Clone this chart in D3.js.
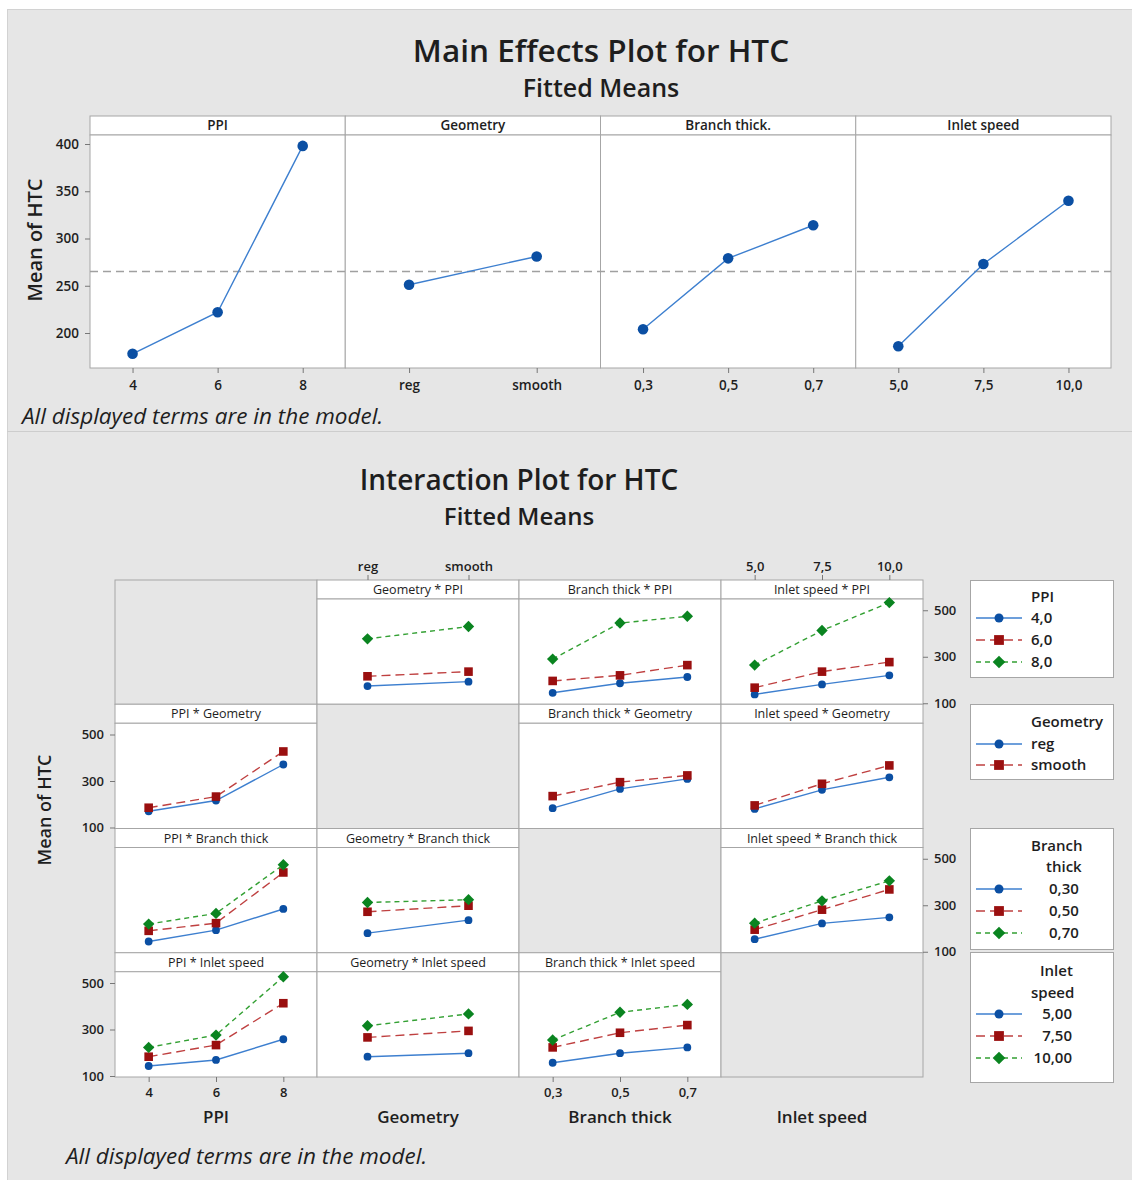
<!DOCTYPE html>
<html>
<head>
<meta charset="utf-8">
<script src="https://cdn.jsdelivr.net/npm/d3@7"></script>
<style>
body { margin: 0; background: #fff; }
svg text { font-family: "Open Sans", "Noto Sans", sans-serif; fill: #1e1e1e; }
</style>
</head>
<body>
<div id="chart"></div>
<script>

//- Data: factors and levels
const factorNames = ["PPI", "Geometry", "Branch thick", "Inlet speed"];
const mainStripNames = ["PPI", "Geometry", "Branch thick.", "Inlet speed"];

const ppiLevels = ["4", "6", "8"];
const geomLevels = ["reg", "smooth"];
const branchLevels = ["0,3", "0,5", "0,7"];
const inletLevels = ["5,0", "7,5", "10,0"];

const ppiLegend = ["4,0", "6,0", "8,0"];
const geomLegend = ["reg", "smooth"];
const branchLegend = ["0,30", "0,50", "0,70"];
const inletLegend = ["5,00", "7,50", "10,00"];

//- Data: main effects (fitted means)
const mainPPI = [178, 222, 398];
const mainGeom = [251, 281];
const mainBranch = [204, 279, 314];
const mainInlet = [186, 273, 340];
const grandMean = 265;

const mainTicks = [200, 250, 300, 350, 400];
const intTicks = [100, 300, 500];

//- Data: interaction fitted means, "x factor by trace factor", one array per trace level
const geomByPPI = [[174, 193], [216, 236], [377, 430]];
const branchByPPI = [[145, 186, 213], [196, 220, 264], [290, 445, 474]];
const inletByPPI = [[138, 181, 220], [167, 236, 277], [264, 413, 533]];

const ppiByGeom = [[170, 216, 371], [185, 233, 427]];
const branchByGeom = [[183, 266, 309], [235, 295, 324]];
const inletByGeom = [[180, 262, 316], [195, 288, 367]];

const ppiByBranch = [[144, 193, 284], [190, 223, 441], [219, 265, 474]];
const geomByBranch = [[180, 236], [272, 298], [312, 324]];
const inletByBranch = [[154, 222, 248], [195, 281, 368], [223, 319, 405]];

const ppiByInlet = [[143, 169, 258], [183, 233, 413], [223, 276, 527]];
const geomByInlet = [[183, 198], [266, 294], [316, 367]];
const branchByInlet = [[157, 198, 223], [223, 286, 319], [255, 374, 408]];


//- Globals
const WIDTH = 1132;
const HEIGHT = 1180;
const BG = "#e6e6e6";
const FRAME = "#a6a6a6";

const levelsList = [ppiLevels, geomLevels, branchLevels, inletLevels];
const mainList = [mainPPI, mainGeom, mainBranch, mainInlet];

// cellData[trace][x]
const cellData = [
    [null, geomByPPI, branchByPPI, inletByPPI],
    [ppiByGeom, null, branchByGeom, inletByGeom],
    [ppiByBranch, geomByBranch, null, inletByBranch],
    [ppiByInlet, geomByInlet, branchByInlet, null]
];

const seriesStyle = [
    { line: "#3d7fcf", fill: "#0b4fa3", dash: null, shape: "circle" },
    { line: "#bf4040", fill: "#9a0f0f", dash: "9,5", shape: "square" },
    { line: "#33a033", fill: "#0a8420", dash: "5,4", shape: "diamond" }
];


function markerPath(shape, s){
    /* path of a marker centred on 0,0; s is the half size */
    if (shape == "circle"){
        return d3.symbol(d3.symbolCircle, Math.PI * s * s)();
    }
    if (shape == "square"){
        return `M${-s},${-s}H${s}V${s}H${-s}Z`;
    }
    return `M0,${-s}L${s},0L0,${s}L${-s},0Z`;
}

function markerSize(shape){
    if (shape == "circle") return 3.9;
    if (shape == "square") return 4.3;
    return 5.7;
}


let svg = d3.select("#chart").append("svg")
    .attr("width", WIDTH)
    .attr("height", HEIGHT);

svg.append("rect").attr("width", WIDTH).attr("height", HEIGHT).attr("fill", "#fff");

svg.append("rect")
    .attr("x", 7.5).attr("y", 9.5)
    .attr("width", WIDTH).attr("height", HEIGHT)
    .attr("fill", BG).attr("stroke", "#d2d2d2");

svg.append("line")
    .attr("x1", 7).attr("x2", WIDTH)
    .attr("y1", 431.5).attr("y2", 431.5)
    .attr("stroke", "#cdcdcd");


function styleAxis(g, fontSize){
    g.select(".domain").remove();
    g.selectAll(".tick line").attr("stroke", "#777");
    g.selectAll(".tick text")
        .attr("fill", "#1e1e2e")
        .style("font-size", fontSize + "px")
        .style("font-weight", 600)
        .style("font-family", "'Open Sans', sans-serif");
}


//-- Main Effects Plot
const me = { left: 90, top: 116, strip: 19, bottom: 368, width: 1021 };
const mePanelW = me.width / 4;

svg.append("text")
    .attr("x", 601).attr("y", 62)
    .attr("text-anchor", "middle")
    .style("font-size", "31.5px").style("font-weight", 600)
    .text("Main Effects Plot for HTC");

svg.append("text")
    .attr("x", 601).attr("y", 97)
    .attr("text-anchor", "middle")
    .style("font-size", "25px").style("font-weight", 600)
    .text("Fitted Means");

let yMain = d3.scaleLinear().domain([200, 400]).range([333, 144]);

let meGroup = svg.append("g");

mainList.forEach((values, i) => {
    let px = me.left + i * mePanelW;

    meGroup.append("rect")
        .attr("x", px).attr("y", me.top)
        .attr("width", mePanelW).attr("height", me.strip)
        .attr("fill", "#fff").attr("stroke", FRAME);

    meGroup.append("text")
        .attr("x", px + mePanelW / 2).attr("y", me.top + 14)
        .attr("text-anchor", "middle")
        .style("font-size", "13.5px").style("font-weight", 600)
        .text(mainStripNames[i]);

    meGroup.append("rect")
        .attr("x", px).attr("y", me.top + me.strip)
        .attr("width", mePanelW).attr("height", me.bottom - me.top - me.strip)
        .attr("fill", "#fff").attr("stroke", FRAME);
});

meGroup.append("line")
    .attr("x1", me.left).attr("x2", me.left + me.width)
    .attr("y1", yMain(grandMean)).attr("y2", yMain(grandMean))
    .attr("stroke", "#a0a0a0").attr("stroke-width", 1.5)
    .attr("stroke-dasharray", "8,5");

mainList.forEach((values, i) => {
    let px = me.left + i * mePanelW;
    let x = d3.scalePoint().domain(levelsList[i]).range([px, px + mePanelW]).padding(0.5);

    let pts = values.map((v, k) => [x(levelsList[i][k]), yMain(v)]);

    meGroup.append("path")
        .attr("d", d3.line()(pts))
        .attr("fill", "none").attr("stroke", "#3d7fcf").attr("stroke-width", 1.4);

    meGroup.selectAll(null)
        .data(pts)
        .enter()
        .append("circle")
        .attr("cx", d => d[0]).attr("cy", d => d[1])
        .attr("r", 5.3)
        .attr("fill", "#0b4fa3");

    let ax = meGroup.append("g")
        .attr("transform", `translate(0, ${me.bottom})`)
        .call(d3.axisBottom(x).tickSize(5).tickPadding(7));
    styleAxis(ax, 13.5);
});

let meY = meGroup.append("g")
    .attr("transform", `translate(${me.left}, 0)`)
    .call(d3.axisLeft(yMain).tickValues(mainTicks).tickSize(5).tickPadding(6));
styleAxis(meY, 13.5);

svg.append("text")
    .attr("transform", "translate(42, 240) rotate(-90)")
    .attr("text-anchor", "middle")
    .style("font-size", "20px").style("font-weight", 600)
    .text("Mean of HTC");

svg.append("text")
    .attr("x", 22).attr("y", 424)
    .style("font-size", "22.5px").style("font-style", "italic")
    .text("All displayed terms are in the model.");


//-- Interaction Plot
const ip = { left: 115, top: 580, cellW: 202, cellH: 124.25, strip: 19 };

svg.append("text")
    .attr("x", 519).attr("y", 490)
    .attr("text-anchor", "middle")
    .style("font-size", "28px").style("font-weight", 600)
    .text("Interaction Plot for HTC");

svg.append("text")
    .attr("x", 519).attr("y", 525)
    .attr("text-anchor", "middle")
    .style("font-size", "24px").style("font-weight", 600)
    .text("Fitted Means");

let ipGroup = svg.append("g");

for (let r = 0; r < 4; r++){
    for (let c = 0; c < 4; c++){
        let cx = ip.left + c * ip.cellW;
        let cy = ip.top + r * ip.cellH;
        let bottom = cy + ip.cellH;

        if (r == c){
            ipGroup.append("rect")
                .attr("x", cx).attr("y", cy)
                .attr("width", ip.cellW).attr("height", ip.cellH)
                .attr("fill", BG).attr("stroke", FRAME);
            continue;
        }

        ipGroup.append("rect")
            .attr("x", cx).attr("y", cy)
            .attr("width", ip.cellW).attr("height", ip.strip)
            .attr("fill", "#fff").attr("stroke", FRAME);

        ipGroup.append("text")
            .attr("x", cx + ip.cellW / 2).attr("y", cy + 14)
            .attr("text-anchor", "middle")
            .style("font-size", "12.5px")
            .text(`${factorNames[c]} * ${factorNames[r]}`);

        ipGroup.append("rect")
            .attr("x", cx).attr("y", cy + ip.strip)
            .attr("width", ip.cellW).attr("height", ip.cellH - ip.strip)
            .attr("fill", "#fff").attr("stroke", FRAME);

        let x = d3.scalePoint().domain(levelsList[c]).range([cx, cx + ip.cellW]).padding(0.5);
        let y = d3.scaleLinear().domain([100, 500]).range([bottom - 1, bottom - 94]);

        cellData[r][c].forEach((vals, k) => {
            let st = seriesStyle[k];
            let pts = vals.map((v, j) => [x(levelsList[c][j]), y(v)]);

            ipGroup.append("path")
                .attr("d", d3.line()(pts))
                .attr("fill", "none").attr("stroke", st.line).attr("stroke-width", 1.4)
                .attr("stroke-dasharray", st.dash);

            ipGroup.selectAll(null)
                .data(pts)
                .enter()
                .append("path")
                .attr("transform", d => `translate(${d[0]}, ${d[1]})`)
                .attr("d", markerPath(st.shape, markerSize(st.shape)))
                .attr("fill", st.fill);
        });
    }
}

//- Interaction axes
for (let r = 0; r < 4; r++){
    let bottom = ip.top + (r + 1) * ip.cellH;
    let y = d3.scaleLinear().domain([100, 500]).range([bottom - 1, bottom - 94]);
    let onRight = (r % 2 == 0);
    let axis = onRight ? d3.axisRight(y) : d3.axisLeft(y);
    let ag = ipGroup.append("g")
        .attr("transform", `translate(${onRight ? ip.left + 4 * ip.cellW : ip.left}, 0)`)
        .call(axis.tickValues(intTicks).tickSize(5).tickPadding(6));
    styleAxis(ag, 13);
}

for (let c = 0; c < 4; c++){
    let cx = ip.left + c * ip.cellW;
    let x = d3.scalePoint().domain(levelsList[c]).range([cx, cx + ip.cellW]).padding(0.5);
    let onBottom = (c % 2 == 0);
    let ag;
    if (onBottom){
        ag = ipGroup.append("g")
            .attr("transform", `translate(0, ${ip.top + 4 * ip.cellH})`)
            .call(d3.axisBottom(x).tickSize(5).tickPadding(6));
    }
    else {
        ag = ipGroup.append("g")
            .attr("transform", `translate(0, ${ip.top})`)
            .call(d3.axisTop(x).tickSize(5).tickPadding(4));
    }
    styleAxis(ag, 13);

    ipGroup.append("text")
        .attr("x", cx + ip.cellW / 2).attr("y", 1123)
        .attr("text-anchor", "middle")
        .style("font-size", "17px").style("font-weight", 600)
        .text(factorNames[c]);
}

svg.append("text")
    .attr("transform", "translate(51, 810) rotate(-90)")
    .attr("text-anchor", "middle")
    .style("font-size", "18px").style("font-weight", 600)
    .text("Mean of HTC");

svg.append("text")
    .attr("x", 66).attr("y", 1164)
    .style("font-size", "22.5px").style("font-style", "italic")
    .text("All displayed terms are in the model.");


//-- Legends
const legendDefs = [
    { top: 580, height: 97, title: [["PPI", 1031, 602]], labels: ppiLegend, rows: [623, 645, 667], lx: 1031, anchor: "start" },
    { top: 704, height: 75, title: [["Geometry", 1031, 727]], labels: geomLegend, rows: [749, 770], lx: 1031, anchor: "start" },
    { top: 828, height: 121, title: [["Branch", 1031, 851], ["thick", 1046, 872]], labels: branchLegend, rows: [894, 916, 938], lx: 1049, anchor: "start" },
    { top: 952, height: 130, title: [["Inlet", 1040, 976], ["speed", 1031, 998]], labels: inletLegend, rows: [1019, 1041, 1063], lx: 1072, anchor: "end" }
];

let legGroup = svg.append("g");

legendDefs.forEach(def => {
    legGroup.append("rect")
        .attr("x", 970.5).attr("y", def.top + 0.5)
        .attr("width", 143).attr("height", def.height)
        .attr("fill", "#fff").attr("stroke", FRAME);

    def.title.forEach(t => {
        legGroup.append("text")
            .attr("x", t[1]).attr("y", t[2])
            .style("font-size", "15px").style("font-weight", 600)
            .text(t[0]);
    });

    def.labels.forEach((lab, k) => {
        let st = seriesStyle[k];
        let yy = def.rows[k] - 5;

        legGroup.append("line")
            .attr("x1", 976).attr("x2", 1022)
            .attr("y1", yy).attr("y2", yy)
            .attr("stroke", st.line).attr("stroke-width", 1.4)
            .attr("stroke-dasharray", st.dash);

        legGroup.append("path")
            .attr("transform", `translate(999, ${yy})`)
            .attr("d", markerPath(st.shape, markerSize(st.shape) + 0.6))
            .attr("fill", st.fill);

        legGroup.append("text")
            .attr("x", def.lx).attr("y", def.rows[k])
            .attr("text-anchor", def.anchor)
            .style("font-size", "15px").style("font-weight", 600)
            .text(lab);
    });
});

</script>
</body>
</html>
